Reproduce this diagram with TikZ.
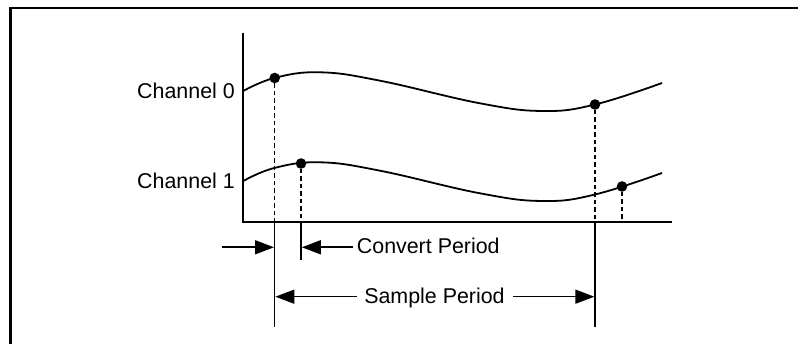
\documentclass[tikz,border=0pt]{standalone}
\usepackage{fontspec}
\setmainfont{Liberation Sans}
\usetikzlibrary{arrows.meta}
\begin{document}
\begin{tikzpicture}[x=1pt,y=-1pt,
  frameline/.style={line width=2.5pt},
  curve/.style={line width=1.8pt},
  axisline/.style={line width=2pt},
  guide/.style={line width=1.4pt},
  dashguide/.style={line width=1.5pt, dash pattern=on 4.5pt off 3pt},
  dot/.style={circle, fill=black, inner sep=0pt, minimum size=10.6pt},
  dimarrow/.style={line width=1.6pt, -{Triangle[length=19pt,width=14pt]}},
  lbl/.style={font=\fontsize{21.4}{25}\selectfont, inner sep=0pt}]
\useasboundingbox (0,0) rectangle (798,344);
% frame (top and left only)
\draw[frameline] (10.3,344) -- (10.3,7.8) -- (798,7.8);
% axes
\coordinate (ytop) at (243.3,33.3);
\coordinate (origin) at (243.3,222.3);
\coordinate (xend) at (671.5,222.3);
\draw[axisline] (ytop) -- (origin) -- (xend);
% waveforms
\draw[curve] plot[smooth, tension=0.7] coordinates {(243.3,91) (274.7,77.9) (320,72.3) (380,80.7) (480,103.3) (543,111) (595,104.5) (662,83)};
\begin{scope}[shift={(0,90)}]
\draw[curve] plot[smooth, tension=0.7] coordinates {(243.3,91) (274.7,77.9) (320,72.3) (380,80.7) (480,103.3) (543,111) (595,104.5) (662,83)};
\end{scope}
% sample dots
\node[dot] (d0a) at (274.7,78) {};
\node[dot] (d0b) at (595,104.5) {};
\node[dot] (d1a) at (301,163.5) {};
\node[dot] (d1b) at (622,186.5) {};
% labels
\node[lbl, anchor=base east] (ch0) at (235,99) {Channel 0};
\node[lbl, anchor=base east] (ch1) at (235,189) {Channel 1};
% dashed drop lines
\draw[dashguide] (d0a) -- (d0a |- origin);
\draw[dashguide] (d1a) -- (d1a |- origin);
\draw[dashguide] (d0b) -- (d0b |- origin);
\draw[dashguide] (d1b) -- (d1b |- origin);
% solid extension lines
\coordinate (lowlong) at (0,326.7);
\coordinate (lowshort) at (0,260);
\draw[guide] (d0a |- origin) -- (d0a |- lowlong);
\draw[guide] (d1a |- origin) -- (d1a |- lowshort);
\draw[guide] (d0b |- origin) -- (d0b |- lowlong);
% convert period
\coordinate (cpL) at (221.7,247.3);
\coordinate (cpTipA) at (274,247.3);
\coordinate (cpTipB) at (301.8,247.3);
\node[lbl, anchor=base west] (cp) at (356.7,254) {Convert Period};
\draw[dimarrow] (cpL) -- (cpTipA);
\draw[dimarrow] (353.3,247.3) coordinate (cpR) -- (cpTipB);
% sample period
\node[lbl, anchor=base] (sp) at (434.5,303.3) {Sample Period};
\coordinate (spL) at (356.7,296.7);
\coordinate (spR) at (513.3,296.7);
\draw[dimarrow] (spL) -- (275.4,296.7) coordinate (spTipA);
\draw[dimarrow] (spR) -- (594.3,296.7) coordinate (spTipB);
\end{tikzpicture}
\end{document}
